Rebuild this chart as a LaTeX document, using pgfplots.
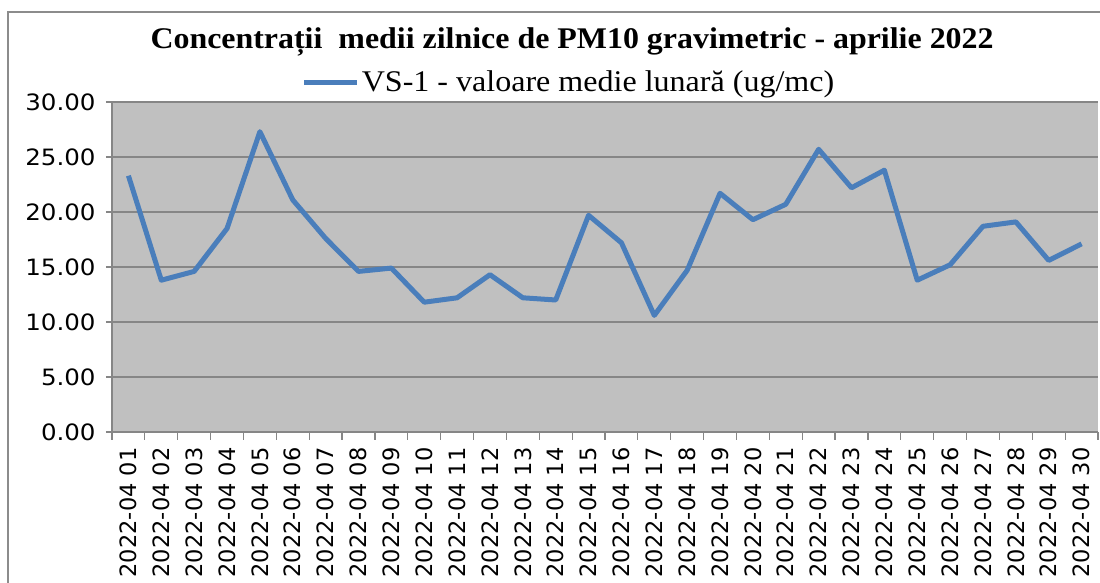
\documentclass[border=0pt]{standalone}
\usepackage{fontspec}
\setmainfont{Liberation Serif}
\newfontfamily\dv{DejaVu Sans}
\usepackage{graphicx}
\usepackage{pgfplots}
\pgfplotsset{compat=1.18}
\definecolor{plotbg}{HTML}{C0C0C0}
\definecolor{gridc}{HTML}{868686}
\definecolor{linec}{HTML}{4A7EBB}
\definecolor{framec}{HTML}{8C8C8C}
\begin{document}
\begin{tikzpicture}
\useasboundingbox (0,0) rectangle (1100pt,583pt);
\draw[framec, line width=2pt] (8pt,0) -- (8pt,571pt) -- (1100pt,571pt);
\node[font=\fontsize{30}{33}\selectfont\bfseries, xscale=1.064] at (572pt,541pt) {Concentrații\ \ medii zilnice de PM10 gravimetric - aprilie 2022};
\begin{axis}[
  at={(112pt,151pt)}, anchor=south west,
  scale only axis, width=986pt, height=330pt,
  xmin=-0.5, xmax=29.5, ymin=0, ymax=30,
  axis background/.style={fill=plotbg},
  axis x line*=bottom, axis y line*=left,
  axis line style={gridc, line width=1.2pt},
  ymajorgrids, major grid style={gridc, line width=1.5pt},
  ytick={0,5,...,30},
  yticklabel={\pgfmathprintnumber[fixed,fixed zerofill,precision=2]{\tick}},
  /pgf/number format/assume math mode=true,
  tick align=outside,
  tick style={gridc, line width=1.2pt},
  major tick length=6pt,
  xtick={0,...,29}, 
  x tick style={draw=none},
  minor xtick={-0.5,0.5,...,29.5},
  minor x tick style={draw=gridc, line width=1.2pt},
  minor tick length=8pt,
  xticklabels={2022-04 01,2022-04 02,2022-04 03,2022-04 04,2022-04 05,2022-04 06,2022-04 07,2022-04 08,2022-04 09,2022-04 10,2022-04 11,2022-04 12,2022-04 13,2022-04 14,2022-04 15,2022-04 16,2022-04 17,2022-04 18,2022-04 19,2022-04 20,2022-04 21,2022-04 22,2022-04 23,2022-04 24,2022-04 25,2022-04 26,2022-04 27,2022-04 28,2022-04 29,2022-04 30},
  xticklabel style={rotate=90, anchor=east, font=\dv\fontsize{22.5}{24}\selectfont, xshift=-6pt},
  yticklabel style={font=\dv\fontsize{22.5}{24}\selectfont, xscale=1.09, anchor=east, xshift=-6pt},
  legend style={at={(0.4635,1.0606)}, anchor=center, draw=none, fill=none, font=\fontsize{30}{32}\selectfont, inner sep=0pt},
  legend image code/.code={\draw[#1] (0pt,0pt) -- (53pt,0pt);},
]
\addplot[linec, line width=5pt, line join=round] coordinates {
(0,23.3) (1,13.8) (2,14.6) (3,18.5) (4,27.3) (5,21.1) (6,17.6) (7,14.6) (8,14.9) (9,11.8)
(10,12.2) (11,14.3) (12,12.2) (13,12.0) (14,19.7) (15,17.2) (16,10.6) (17,14.7) (18,21.7) (19,19.3)
(20,20.7) (21,25.7) (22,22.2) (23,23.8) (24,13.8) (25,15.2) (26,18.7) (27,19.1) (28,15.6) (29,17.1)
};
\addlegendentry{\scalebox{1.068}[1]{VS-1 - valoare medie lunară (ug/mc)}}
\end{axis}
\end{tikzpicture}
\end{document}
